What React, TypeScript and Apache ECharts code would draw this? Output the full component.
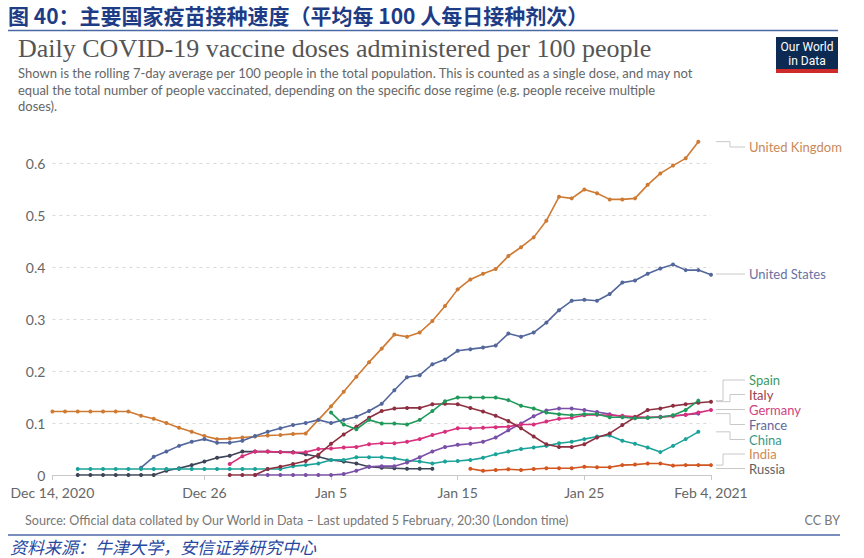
import React, { useEffect, useRef } from "react";
import * as echarts from "echarts";

// ---------- DATA ----------
const categories = [
  "Dec 14, 2020", "Dec 15", "Dec 16", "Dec 17", "Dec 18", "Dec 19", "Dec 20", "Dec 21", "Dec 22", "Dec 23",
  "Dec 24", "Dec 25", "Dec 26", "Dec 27", "Dec 28", "Dec 29", "Dec 30", "Dec 31", "Jan 1", "Jan 2",
  "Jan 3", "Jan 4", "Jan 5", "Jan 6", "Jan 7", "Jan 8", "Jan 9", "Jan 10", "Jan 11", "Jan 12",
  "Jan 13", "Jan 14", "Jan 15", "Jan 16", "Jan 17", "Jan 18", "Jan 19", "Jan 20", "Jan 21", "Jan 22",
  "Jan 23", "Jan 24", "Jan 25", "Jan 26", "Jan 27", "Jan 28", "Jan 29", "Jan 30", "Jan 31", "Feb 1",
  "Feb 2", "Feb 3", "Feb 4, 2021",
];
const tickLabels = ["Dec 14, 2020", "Dec 26", "Jan 5", "Jan 15", "Jan 25", "Feb 4, 2021"];

const ukStart = 0;
const ukValues = [
  0.122, 0.122, 0.122, 0.122, 0.122, 0.122, 0.122, 0.114, 0.108, 0.1,
  0.091, 0.083, 0.075, 0.069, 0.07, 0.072, 0.074, 0.076, 0.077, 0.079,
  0.08, 0.106, 0.132, 0.16, 0.189, 0.217, 0.243, 0.27, 0.266, 0.274,
  0.296, 0.325, 0.357, 0.376, 0.387, 0.396, 0.421, 0.438, 0.457, 0.489,
  0.535, 0.532, 0.549, 0.542, 0.53, 0.53, 0.532, 0.558, 0.58, 0.595,
  0.609, 0.641,
];
const usStart = 7;
const usValues = [
  0.014, 0.035, 0.045, 0.056, 0.064, 0.069, 0.062, 0.062, 0.066, 0.075,
  0.083, 0.09, 0.096, 0.1, 0.106, 0.1, 0.106, 0.112, 0.123, 0.137,
  0.163, 0.188, 0.192, 0.213, 0.222, 0.239, 0.242, 0.245, 0.249, 0.272,
  0.266, 0.274, 0.293, 0.317, 0.335, 0.337, 0.335, 0.348, 0.37, 0.374,
  0.387, 0.397, 0.405, 0.394, 0.394, 0.385,
];
const spainStart = 22;
const spainValues = [
  0.12, 0.097, 0.088, 0.106, 0.099, 0.099, 0.097, 0.106, 0.123, 0.142,
  0.149, 0.149, 0.149, 0.149, 0.144, 0.133, 0.128, 0.12, 0.117, 0.115,
  0.117, 0.117, 0.111, 0.111, 0.109, 0.11, 0.111, 0.115, 0.125, 0.143,
];
const italyStart = 14;
const italyValues = [
  0, 0, 0, 0.0115, 0.016, 0.021, 0.027, 0.039, 0.06, 0.078,
  0.093, 0.11, 0.123, 0.128, 0.129, 0.129, 0.136, 0.137, 0.136, 0.129,
  0.122, 0.114, 0.104, 0.09, 0.074, 0.059, 0.054, 0.054, 0.059, 0.072,
  0.08, 0.096, 0.111, 0.125, 0.128, 0.133, 0.136, 0.139, 0.141,
];
const germanyStart = 14;
const germanyValues = [
  0.021, 0.036, 0.045, 0.045, 0.044, 0.043, 0.044, 0.05, 0.051, 0.053,
  0.054, 0.059, 0.061, 0.061, 0.064, 0.069, 0.077, 0.083, 0.09, 0.09,
  0.091, 0.092, 0.093, 0.097, 0.097, 0.103, 0.108, 0.11, 0.115, 0.116,
  0.115, 0.114, 0.112, 0.111, 0.111, 0.113, 0.116, 0.12, 0.125,
];
const franceStart = 16;
const franceValues = [
  0, 0, 0, 0, 0, 0, 0, 0.002, 0.008, 0.016,
  0.017, 0.017, 0.024, 0.034, 0.045, 0.054, 0.058, 0.06, 0.064, 0.072,
  0.086, 0.099, 0.113, 0.124, 0.128, 0.128, 0.125, 0.121, 0.117, 0.112,
  0.11, 0.11, 0.112, 0.114, 0.116, 0.118,
];
const chinaStart = 2;
const chinaValues = [
  0.0115, 0.0115, 0.0115, 0.0115, 0.0115, 0.0115, 0.0115, 0.0115, 0.0115, 0.0115,
  0.0115, 0.0115, 0.0115, 0.0115, 0.0115, 0.0115, 0.0115, 0.017, 0.019, 0.022,
  0.029, 0.029, 0.034, 0.034, 0.034, 0.032, 0.028, 0.026, 0.022, 0.026,
  0.027, 0.029, 0.033, 0.04, 0.045, 0.05, 0.053, 0.056, 0.061, 0.064,
  0.069, 0.074, 0.076, 0.066, 0.06, 0.053, 0.044, 0.056, 0.069, 0.083,
];
const indiaStart = 33;
const indiaValues = [
  0.012, 0.008, 0.0096, 0.011, 0.0096, 0.0115, 0.013, 0.013, 0.013, 0.016,
  0.015, 0.015, 0.019, 0.02, 0.022, 0.022, 0.018, 0.019, 0.019, 0.019,
];
const russiaStart = 2;
const russiaValues = [
  0, 0, 0, 0, 0, 0, 0, 0.008, 0.013, 0.019,
  0.026, 0.033, 0.037, 0.045, 0.045, 0.045, 0.044, 0.044, 0.04, 0.035,
  0.029, 0.026, 0.022, 0.016, 0.014, 0.013, 0.012, 0.012, 0.012,
];

const yTicks = [0, 0.1, 0.2, 0.3, 0.4, 0.5, 0.6];

// ---------- STYLE ----------
type S = {
  name: string; start: number; values: number[]; color: string; labelColor: string;
  labelY: number; elbowX: number;
};
const seriesDefs: S[] = [
  { name: "United Kingdom", start: ukStart, values: ukValues, color: "#cf7a33", labelColor: "#c8895a", labelY: 147, elbowX: 730 },
  { name: "United States", start: usStart, values: usValues, color: "#53679c", labelColor: "#6a72a0", labelY: 274, elbowX: 730 },
  { name: "Russia", start: russiaStart, values: russiaValues, color: "#3d4457", labelColor: "#5f5f5f", labelY: 468.5, elbowX: 730 },
  { name: "China", start: chinaStart, values: chinaValues, color: "#1ba39a", labelColor: "#3b9686", labelY: 439.5, elbowX: 730 },
  { name: "France", start: franceStart, values: franceValues, color: "#7a4fa8", labelColor: "#65679a", labelY: 424.5, elbowX: 730 },
  { name: "Germany", start: germanyStart, values: germanyValues, color: "#d8307c", labelColor: "#cf4382", labelY: 409.5, elbowX: 730 },
  { name: "Italy", start: italyStart, values: italyValues, color: "#8d2f40", labelColor: "#9e3f4e", labelY: 394.5, elbowX: 730 },
  { name: "Spain", start: spainStart, values: spainValues, color: "#209a5a", labelColor: "#3c9a5e", labelY: 380, elbowX: 723 },
  { name: "India", start: indiaStart, values: indiaValues, color: "#d2561f", labelColor: "#d08a52", labelY: 454, elbowX: 723 },
];

const N = categories.length;
function pad(start: number, vals: number[]) {
  const out: (number | null)[] = new Array(N).fill(null);
  vals.forEach((v, i) => { out[start + i] = v; });
  return out;
}

const OWID_FONT = "Lato, 'Noto Sans', sans-serif";
const CJK_FONT = "'Noto Sans CJK SC', sans-serif";

export default function App() {
  const ref = useRef<HTMLDivElement>(null);
  useEffect(() => {
    if (!ref.current) return;
    const chart = echarts.init(ref.current, undefined, { renderer: "svg" });
    const option: any = {
      animation: false,
      backgroundColor: "#ffffff",
      grid: { left: 52.4, right: 153, top: 137, bottom: 83, containLabel: false },
      xAxis: {
        type: "category",
        data: categories,
        boundaryGap: false,
        axisLine: { lineStyle: { color: "#c8c8c8", width: 1 } },
        axisTick: {
          show: true,
          length: 5,
          interval: (_i: number, v: string) => tickLabels.includes(v),
          lineStyle: { color: "#c8c8c8" },
        },
        axisLabel: {
          interval: (_i: number, v: string) => tickLabels.includes(v),
          color: "#666",
          fontFamily: OWID_FONT,
          fontSize: 14,
          margin: 10,
          showMinLabel: true,
          showMaxLabel: true,
        },
        splitLine: { show: false },
      },
      yAxis: {
        type: "value",
        min: 0,
        max: 0.65,
        interval: 0.1,
        axisLine: { show: false },
        axisTick: { show: false },
        axisLabel: {
          color: "#666",
          fontFamily: OWID_FONT,
          fontSize: 14,
          margin: 7,
          showMaxLabel: false,
          formatter: (v: number) => {
            const t = yTicks.find((x) => Math.abs(x - v) < 1e-6);
            return t === undefined ? "" : String(t);
          },
        },
        splitLine: {
          show: true,
          showMaxLine: false,
          lineStyle: { color: "#d9d9d9", type: [3, 4], width: 1 },
        },
      },
      series: seriesDefs.map((s) => ({
        name: s.name,
        type: "line",
        data: pad(s.start, s.values),
        symbol: "circle",
        symbolSize: 4,
        showSymbol: true,
        connectNulls: false,
        lineStyle: { color: s.color, width: 1.6 },
        itemStyle: { color: s.color },
        emphasis: { disabled: true },
        silent: true,
      })),
    };
    chart.setOption(option);

    const graphics: any[] = [];
    // Chinese header
    graphics.push({
      type: "text", x: 8, y: 15,
      style: { text: "图 40：主要国家疫苗接种速度（平均每 100 人每日接种剂次）", fill: "#1e3c86", font: `bold 21px ${CJK_FONT}`, verticalAlign: "middle" },
    });
    graphics.push({ type: "line", shape: { x1: 8, y1: 30.5, x2: 838, y2: 30.5 }, style: { stroke: "#4b68a6", lineWidth: 1.5 } });
    // OWID title
    graphics.push({
      type: "text", left: 18, top: 35,
      style: { text: "Daily COVID-19 vaccine doses administered per 100 people", fill: "#555", font: `26px 'Liberation Serif', serif` },
    });
    graphics.push({
      type: "text", left: 18, top: 65,
      style: {
        text: "Shown is the rolling 7-day average per 100 people in the total population. This is counted as a single dose, and may not\nequal the total number of people vaccinated, depending on the specific dose regime (e.g. people receive multiple\ndoses).",
        fill: "#666", font: `13px ${OWID_FONT}`, lineHeight: 16.5,
      },
    });
    // Logo
    graphics.push({ type: "rect", shape: { x: 776, y: 37, width: 62, height: 36 }, style: { fill: "#0d2a52" } });
    graphics.push({ type: "rect", shape: { x: 776, y: 69, width: 62, height: 4 }, style: { fill: "#cf2a2a" } });
    graphics.push({
      type: "text", x: 807, y: 54,
      style: { text: "Our World\nin Data", fill: "#fff", font: `12px 'Liberation Sans Narrow', Roboto, sans-serif`, align: "center", verticalAlign: "middle", lineHeight: 14 },
    });
    // Footer
    graphics.push({
      type: "text", left: 25, top: 514,
      style: { text: "Source: Official data collated by Our World in Data – Last updated 5 February, 20:30 (London time)", fill: "#777", font: `12.6px ${OWID_FONT}` },
    });
    graphics.push({
      type: "text", right: 24, top: 514,
      style: { text: "CC BY", fill: "#777", font: `12.6px ${OWID_FONT}` },
    });
    graphics.push({ type: "line", shape: { x1: 8, y1: 535, x2: 840, y2: 535 }, style: { stroke: "#4b68a6", lineWidth: 1.5 } });
    graphics.push({
      type: "text", left: 10, top: 538,
      style: { text: "资料来源：牛津大学，安信证券研究中心", fill: "#2848a0", font: `italic 17px ${CJK_FONT}` },
    });

    // End labels with connectors
    seriesDefs.forEach((s) => {
      const lastIdx = s.start + s.values.length - 1;
      const p = chart.convertToPixel({ xAxisIndex: 0, yAxisIndex: 0 }, [lastIdx, s.values[s.values.length - 1]]) as number[];
      const y0 = p[1];
      const pts = Math.abs(y0 - s.labelY) < 1.5
        ? [[716, s.labelY], [745, s.labelY]]
        : [[716, y0], [s.elbowX, y0], [s.elbowX, s.labelY], [745, s.labelY]];
      graphics.push({ type: "polyline", shape: { points: pts }, style: { stroke: "#c8c8c8", lineWidth: 1, fill: null } });
      graphics.push({
        type: "text", x: 749, y: s.labelY,
        style: { text: s.name, fill: s.labelColor, font: `13px ${OWID_FONT}`, verticalAlign: "middle" },
      });
    });

    chart.setOption({ graphic: graphics });
    return () => chart.dispose();
  }, []);
  return <div ref={ref} style={{ position: "absolute", left: 0, top: 0, width: 864, height: 558 }} />;
}
